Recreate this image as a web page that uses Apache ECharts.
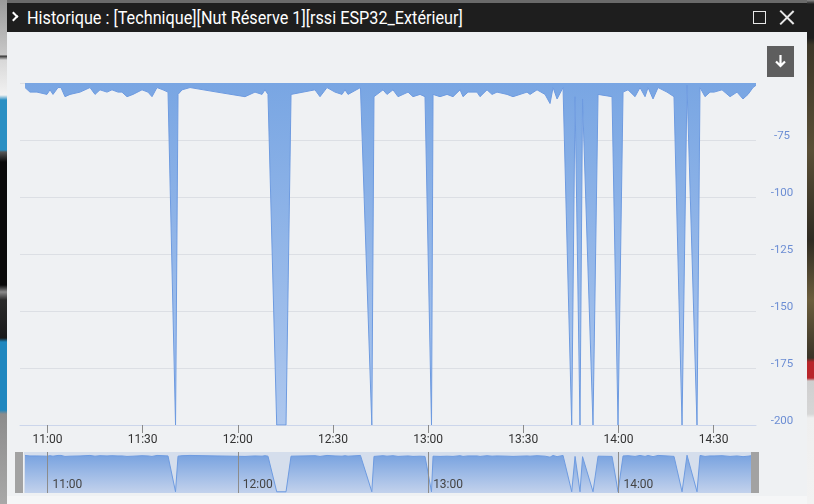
<!DOCTYPE html>
<html>
<head>
<meta charset="utf-8">
<script src="https://cdn.jsdelivr.net/npm/echarts@6/dist/echarts.min.js"></script>
<style>
html,body{margin:0;padding:0;width:814px;height:504px;overflow:hidden;background:#6a6a6a;font-family:Roboto,"Noto Sans",sans-serif;}
#leftbg{position:absolute;left:0;top:0;width:7px;height:504px;
 background:linear-gradient(to bottom,#9a9a9a 0,#c8c8c8 55px,#333 56px,#d8d8d8 60px,#f2f2f2 95px,#2a8fc3 100px,#2a8fc3 150px,#555 152px,#0a0a0a 162px,#0a0a0a 285px,#8a8a8a 292px,#2a2a2a 300px,#1a1a1a 338px,#1f87bf 342px,#1f87bf 410px,#8c8c8c 414px,#a8a8a8 504px);}
#rightbg{position:absolute;left:807px;top:0;width:7px;height:504px;
 background:linear-gradient(to bottom,#8a8a8a 0,#1e1e1e 4px,#1e1e1e 38px,#3c3628 45px,#5a4f36 150px,#2f2b22 240px,#6b5d3c 300px,#3a3428 358px,#b8262b 362px,#b8262b 378px,#cfcfcf 381px,#d6d6d6 414px,#efefef 418px,#f2f2f2 504px);}
#titlebar{position:absolute;left:7px;top:3px;width:800px;height:29px;background:#1e1e1e;}
#body{position:absolute;left:7px;top:32px;width:800px;height:472px;background:#eff1f3;}
#bodybottom{position:absolute;left:7px;top:496px;width:800px;height:8px;background:#f5f6f7;}
#chev{position:absolute;left:10px;top:13px;width:5px;height:5px;border-right:2px solid #fff;border-bottom:2px solid #fff;transform:rotate(-45deg);}
#title{position:absolute;left:27px;top:6px;height:24px;line-height:24px;font-size:18px;color:#fff;white-space:nowrap;transform-origin:0 50%;}
#sq{position:absolute;left:753px;top:11px;width:11px;height:11px;border:1.5px solid #e8e8e8;}
#xbtn{position:absolute;left:779px;top:9px;width:16px;height:16px;}
#xbtn:before,#xbtn:after{content:"";position:absolute;left:7px;top:-1px;width:1.5px;height:19px;background:#e8e8e8;}
#xbtn:before{transform:rotate(45deg);}
#xbtn:after{transform:rotate(-45deg);}
#chart{position:absolute;left:0;top:0;width:814px;height:504px;}
#dl{position:absolute;left:767px;top:46px;width:27px;height:31px;background:#5e5e5e;}
#dl svg{position:absolute;left:7px;top:8px;}
</style>
</head>
<body>
<div id="leftbg"></div>
<div id="rightbg"></div>
<div id="titlebar"></div>
<div id="body"></div>
<div id="bodybottom"></div>
<div id="chev"></div>
<div id="title">Historique : [Technique][Nut Réserve 1][rssi ESP32_Extérieur]</div>
<div id="sq"></div>
<div id="xbtn"></div>
<div id="chart"></div>
<div id="dl"><svg width="13" height="14" viewBox="0 0 13 14"><path d="M6.5 1 V12 M2 7.5 L6.5 12 L11 7.5" stroke="#fff" stroke-width="2.2" fill="none"/></svg></div>
<script>
// ---- data ----
const times = [
 '10:52:55','10:54:29','10:56:41','10:59:50','11:00:47','11:01:44','11:03:19','11:04:15','11:05:31','11:07:06',
 '11:10:15','11:13:24','11:14:59','11:16:33','11:18:46','11:20:20','11:22:14','11:23:29','11:25:04','11:26:58',
 '11:29:48','11:31:41','11:32:57','11:34:31','11:36:25','11:38:00','11:40:22','11:41:09','11:42:25','11:44:56',
 '11:53:27','12:02:16','12:05:25','12:07:38','12:08:34','12:09:31','12:12:16','12:15:12','12:16:47','12:24:20',
 '12:25:55','12:28:07','12:30:39','12:32:51','12:33:48','12:34:45','12:38:40','12:42:15','12:42:56','12:45:47',
 '12:47:02','12:48:56','12:50:31','12:53:40','12:55:14','12:57:27','12:59:01','13:01:04','13:01:33','13:03:45',
 '13:05:58','13:07:51','13:10:04','13:11:00','13:12:35','13:15:25','13:16:22','13:18:34','13:20:09','13:21:43',
 '13:24:53','13:26:46','13:31:11','13:32:08','13:34:20','13:36:52','13:38:26','13:39:23','13:40:39','13:42:32',
 '13:45:16','13:46:19','13:47:53','13:48:41','13:51:59','13:53:34','13:57:59','13:59:52','14:01:27','14:03:01',
 '14:05:14','14:06:48','14:08:23','14:09:20','14:10:54','14:12:29','14:15:19','14:17:31','14:20:03','14:21:37',
 '14:24:46','14:25:43','14:27:18','14:28:52','14:30:08','14:32:39','14:35:11','14:37:23','14:39:16','14:40:51',
 '14:42:25','14:43:22'
];
const rssi = [
 -52,-54,-54,-55,-53,-55,-52,-52,-56,-55,
 -54,-52,-55,-53,-54,-53,-54,-54,-56,-55,
 -53,-54,-56,-52,-53,-54,-200,-55,-53,-52,
 -54,-56,-54,-55,-53,-55,-200,-200,-55,-53,
 -56,-52,-54,-55,-53,-55,-52,-200,-56,-53,
 -55,-53,-56,-54,-56,-55,-56,-200,-55,-56,
 -55,-56,-53,-56,-54,-54,-56,-53,-55,-54,
 -55,-56,-54,-55,-53,-55,-59,-52,-57,-52,
 -200,-56,-200,-57,-200,-55,-56,-200,-54,-53,
 -56,-52,-56,-52,-57,-52,-54,-56,-200,-51,
 -200,-52,-56,-54,-54,-53,-56,-54,-57,-55,
 -52,-51
];
const mainTickLabels = ['11:00','11:30','12:00','12:30','13:00','13:30','14:00','14:30'];
const navTickLabels = ['11:00','12:00','13:00','14:00'];
const yTicks = [-200,-175,-150,-125,-100,-75];
const mainRange = ['10:51:20','14:43:22'];
const navRange = ['10:52:36','14:41:47'];

// ---- helpers ----
function toMin(s){const p=s.split(':').map(Number);return p[0]*60+p[1]+(p[2]||0)/60;}
const pts = times.map((t,i)=>[toMin(t), rssi[i]]);
const mainTickVals = mainTickLabels.map(toMin);
const navTickVals = navTickLabels.map(toMin);
function lab(v, labels, vals){
  let best=0;for(let i=0;i<vals.length;i++){if(Math.abs(vals[i]-v)<Math.abs(vals[best]-v))best=i;}
  return labels[best];
}

// title width fit
const tEl=document.getElementById('title');
const w=tEl.scrollWidth; if(w>0){tEl.style.transform='scaleX('+(436/w)+')';}

const chart = echarts.init(document.getElementById('chart'), null, {renderer:'canvas'});
chart.setOption({
  animation:false,
  backgroundColor:'transparent',
  grid:[
    {left:20, right:58, top:83, height:342, containLabel:false},
    {left:24, right:63, top:452, height:41, show:true, backgroundColor:'#d5deec', borderWidth:0}
  ],
  xAxis:[
    {type:'value', gridIndex:0, min:toMin(mainRange[0]), max:toMin(mainRange[1]),
     axisLine:{show:true, lineStyle:{color:'#ccd6eb', width:1}},
     axisTick:{show:true, customValues:mainTickVals, length:8, lineStyle:{color:'#8a8a8a'}},
     axisLabel:{customValues:mainTickVals, formatter:v=>lab(v,mainTickLabels,mainTickVals), color:'#333', fontSize:12, margin:9, fontFamily:'Roboto'},
     splitLine:{show:false}},
    {type:'value', gridIndex:1, min:toMin(navRange[0]), max:toMin(navRange[1]), z:20,
     axisLine:{show:false}, axisTick:{show:false},
     axisLabel:{show:true, customValues:navTickVals, inside:true, formatter:v=>lab(v,navTickLabels,navTickVals), color:'#444', fontSize:12, align:'left', padding:[0,0,0,5], margin:2, fontFamily:'Roboto'},
     splitLine:{show:false}}
  ],
  yAxis:[
    {type:'value', gridIndex:0, position:'right', min:-200, max:-50, interval:25,
     axisLine:{show:false}, axisTick:{show:false},
     axisLabel:{color:'#6c8ed4', fontSize:11.5, align:'center', margin:26, verticalAlign:'bottom', lineHeight:7, showMaxLabel:false, fontFamily:'Roboto'},
     splitLine:{show:true, lineStyle:{color:'#dcdfe4', width:1}}},
    {type:'value', gridIndex:1, min:-205, max:-38,
     axisLine:{show:false}, axisTick:{show:false}, axisLabel:{show:false}, splitLine:{show:false}}
  ],
  series:[
    {type:'line', xAxisIndex:0, yAxisIndex:0, data:pts, showSymbol:false, symbol:'none',
     lineStyle:{color:'#6e9be0', width:1},
     areaStyle:{origin:'end', opacity:1, color:{type:'linear',x:0,y:0,x2:0,y2:1,colorStops:[{offset:0,color:'#79a6e3'},{offset:1,color:'#adc7ee'}]}}},
    {type:'line', xAxisIndex:1, yAxisIndex:1, data:pts, showSymbol:false, symbol:'none', z:2,
     lineStyle:{color:'#6e9be0', width:1},
     areaStyle:{origin:'start', opacity:1, color:{type:'linear',x:0,y:0,x2:0,y2:1,colorStops:[{offset:0,color:'#79a3e0'},{offset:1,color:'#c3d2ec'}]}},
     markLine:{silent:true, symbol:'none', label:{show:false}, animation:false,
       lineStyle:{color:'#8c8c8c', type:'solid', width:1},
       data:navTickVals.map(v=>({xAxis:v}))}}
  ],
  graphic:[
    {type:'rect', shape:{x:15, y:452, width:8, height:41}, style:{fill:'#a2a2a2'}, z:10},
    {type:'rect', shape:{x:751, y:452, width:8, height:41}, style:{fill:'#a2a2a2'}, z:10}
  ]
});
</script>
</body>
</html>
